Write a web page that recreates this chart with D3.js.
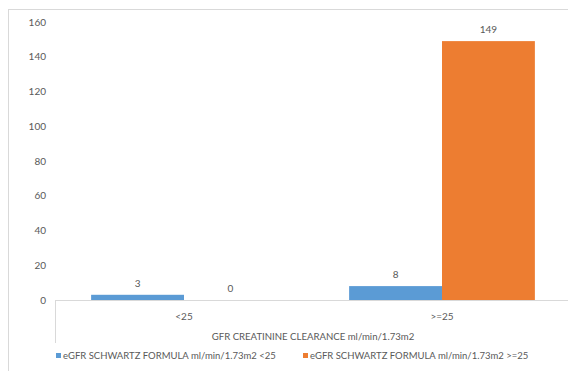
<!DOCTYPE html>
<html lang="en">
<head>
<meta charset="utf-8">
<script src="https://d3js.org/d3.v7.min.js"></script>
<style type="text/css">
  body { margin: 0; background: #fff; }
  text { font-family: Lato, "Liberation Sans", sans-serif; fill: #595959; }
</style>
</head>
<body>
<script type="text/javascript">

  // chart data
  var categories = ["<25", ">=25"];
  var seriesNames = ["eGFR SCHWARTZ FORMULA ml/min/1.73m2 <25", "eGFR SCHWARTZ FORMULA ml/min/1.73m2 >=25"];
  var lowValues = [3, 8];      // eGFR <25
  var highValues = [0, 149];   // eGFR >=25
  var yTicks = [0, 20, 40, 60, 80, 100, 120, 140, 160];
  var axisTitle = "GFR CREATININE CLEARANCE ml/min/1.73m2";

  var width = 568;
  var height = 371;
  var colors = ["#5b9bd5", "#ed7d31"];

  var svg = d3.select("body")
    .append("svg")
    .attr("width", width)
    .attr("height", height);

  // chart border
  svg.append("rect")
    .attr("x", 8.5)
    .attr("y", 9.5)
    .attr("width", 580)
    .attr("height", 400)
    .style("fill", "none")
    .style("stroke", "#d9d9d9");

  var x0 = d3.scaleBand()
    .domain(categories)
    .range([55, 571])
    .paddingInner(0.28)
    .paddingOuter(0.14);

  var x1 = d3.scaleBand()
    .domain([0, 1])
    .range([0, x0.bandwidth()]);

  var y = d3.scaleLinear()
    .domain([0, 160])
    .range([300, 22]);

  // y tick labels (no axis line in the original)
  svg.selectAll(".ytick")
    .data(yTicks)
    .enter()
    .append("text")
    .attr("class", "ytick")
    .attr("x", 46)
    .attr("y", function(d) { return y(d); })
    .attr("dy", ".35em")
    .attr("text-anchor", "end")
    .style("font-size", "10px")
    .text(function(d) { return d; });

  // bars
  var rows = categories.map(function(c, i) {
    return { cat: c, values: [lowValues[i], highValues[i]] };
  });

  var groups = svg.selectAll(".grp")
    .data(rows)
    .enter()
    .append("g")
    .attr("class", "grp")
    .attr("transform", function(d) { return "translate(" + x0(d.cat) + ",0)"; });

  groups.selectAll("rect")
    .data(function(d) { return d.values; })
    .enter()
    .append("rect")
    .attr("x", function(d, i) { return x1(i); })
    .attr("y", function(d) { return y(d); })
    .attr("width", x1.bandwidth())
    .attr("height", function(d) { return y(0) - y(d); })
    .style("fill", function(d, i) { return colors[i]; });

  groups.selectAll(".lbl")
    .data(function(d) { return d.values; })
    .enter()
    .append("text")
    .attr("class", "lbl")
    .attr("x", function(d, i) { return x1(i) + x1.bandwidth() / 2; })
    .attr("y", function(d) { return y(d) - 8; })
    .attr("text-anchor", "middle")
    .style("font-size", "10px")
    .text(function(d) { return d; });

  // category axis
  svg.append("line")
    .attr("x1", 55).attr("x2", width)
    .attr("y1", y(0) + 0.5).attr("y2", y(0) + 0.5)
    .style("stroke", "#d9d9d9");

  svg.append("line")
    .attr("x1", 55.5).attr("x2", 55.5)
    .attr("y1", y(0)).attr("y2", 343)
    .style("stroke", "#d9d9d9");

  svg.selectAll(".xtick")
    .data(categories)
    .enter()
    .append("text")
    .attr("class", "xtick")
    .attr("x", function(d) { return x0(d) + x0.bandwidth() / 2; })
    .attr("y", 320)
    .attr("text-anchor", "middle")
    .style("font-size", "10px")
    .text(function(d) { return d; });

  svg.append("text")
    .attr("x", (55 + 571) / 2)
    .attr("y", 340)
    .attr("text-anchor", "middle")
    .style("font-size", "9.6px")
    .text(axisTitle);

  // legend
  var legendX = [56, 303];
  var legend = svg.selectAll(".legend")
    .data(seriesNames)
    .enter()
    .append("g")
    .attr("class", "legend")
    .attr("transform", function(d, i) { return "translate(" + legendX[i] + ",353)"; });

  legend.append("rect")
    .attr("width", 5)
    .attr("height", 5)
    .style("fill", function(d, i) { return colors[i]; });

  legend.append("text")
    .attr("x", 7)
    .attr("y", 3)
    .attr("dy", ".35em")
    .style("font-size", "9.5px")
    .text(function(d) { return d; });
</script>
</body>
</html>
